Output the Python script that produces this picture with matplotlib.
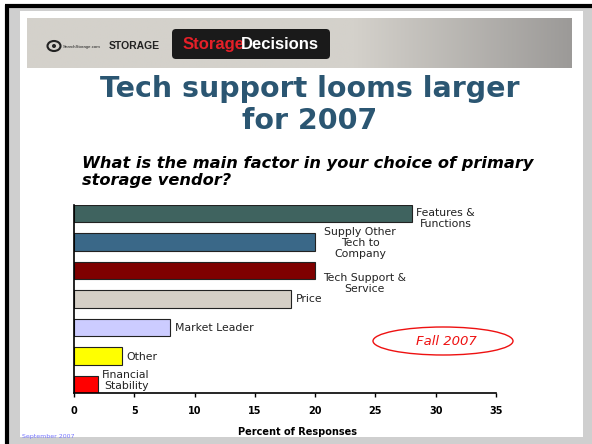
import numpy as np
import matplotlib
matplotlib.use("Agg")
import matplotlib.pyplot as plt
from matplotlib.patches import Rectangle, FancyBboxPatch, Ellipse

# data (top to bottom as on the slide)
factors = ['Features &\nFunctions', 'Supply Other\nTech to\nCompany', 'Tech Support &\nService',
           'Price', 'Market Leader', 'Other', 'Financial\nStability']
percent = [28, 20, 20, 18, 8, 4, 2]
colors = ['#3f635f', '#3a6888', '#7f0000', '#d5cfc6', '#ccccff', '#ffff00', '#ff0000']
xticks = [0, 5, 10, 15, 20, 25, 30, 35]

# label placement, pixel offsets from bar end: (dx, dy, ha)
label_pos = [(34, -5, 'center'), (45, -1, 'center'), (49, -13, 'center'), (5, 0, 'left'),
             (5, -1, 'left'), (4, -1, 'left'), (28, 4, 'center')]

W, H = 592, 444
fig = plt.figure(figsize=(W / 100, H / 100), dpi=100)

# background decoration layer in pixel coords
bg = fig.add_axes([0, 0, 1, 1])
bg.set_xlim(0, W)
bg.set_ylim(H, 0)
bg.axis('off')

# slide frame / shadow
bg.add_patch(Rectangle((8, 8), W - 8, H - 8, facecolor='#cfcfcf', edgecolor='none'))
bg.add_patch(Rectangle((20, 11), 563, 426, facecolor='white', edgecolor='none'))
bg.plot([5, W], [6.5, 6.5], color='black', lw=3, solid_capstyle='butt')
bg.plot([6.5, 6.5], [5, H], color='black', lw=3, solid_capstyle='butt')

# header banner with gradient
grad = np.linspace(0, 1, 256)
grad = np.clip((grad - 0.6) / 0.4, 0, 1)[None, :]
cmap = matplotlib.colors.LinearSegmentedColormap.from_list('ban', ['#d4d1cb', '#9c9a98'])
bg.imshow(grad, extent=(27, 572, 68, 18), cmap=cmap, aspect='auto', zorder=1)
bg.add_patch(FancyBboxPatch((172, 29), 158, 30, boxstyle='round,pad=0,rounding_size=4',
                            facecolor='#1a1a1a', edgecolor='none', zorder=2))
hdr = dict(fontsize=12, fontweight='bold', family='Liberation Sans', va='center', zorder=3)
bg.text(183, 44.5, 'Storage', color='#e52028', ha='left', **hdr)
bg.text(319, 44.5, 'Decisions', color='white', ha='right', **hdr)
bg.text(134, 46, 'STORAGE', color='#222222', fontsize=7.5, fontweight='bold',
        family='Liberation Sans', ha='center', va='center', zorder=3)
bg.text(63, 47, 'SearchStorage.com', color='#222222', fontsize=3.2, family='Liberation Sans',
        ha='left', va='center', zorder=3)
bg.add_patch(Ellipse((54, 46), 13, 10, facecolor='none', edgecolor='#222222', lw=1.5, zorder=3))
bg.add_patch(Ellipse((54, 46), 4, 4, facecolor='#222222', edgecolor='none', zorder=3))

# titles
fig.text(310 / W, 1 - 105 / H, 'Tech support looms larger\nfor 2007', color='#2b5672',
         fontsize=20.5, fontweight='bold', ha='center', va='center', linespacing=1.2)
fig.text(82 / W, 1 - 172 / H, 'What is the main factor in your choice of primary\nstorage vendor?',
         fontsize=11.7, fontweight='bold', style='italic', ha='left', va='center', linespacing=1.15)

# chart
ax = fig.add_axes([74 / W, 1 - 393 / H, 422 / W, 188 / H])
ax.patch.set_alpha(0)
ypos = np.arange(len(factors))[::-1]
ax.barh(ypos, percent, height=0.6, color=colors, edgecolor='#222222', linewidth=0.8)
ax.set_xlim(0, 35)
ax.set_ylim(-0.3, len(factors) - 0.7)
ax.set_xticks(xticks)
ax.set_xticklabels([str(t) for t in xticks], fontsize=7, fontweight='bold')
ax.tick_params(axis='x', length=3, width=1, pad=6)
ax.set_yticks([])
for s in ['top', 'right']:
    ax.spines[s].set_visible(False)
ax.spines['left'].set_linewidth(1.2)
ax.spines['bottom'].set_linewidth(1.2)

for lab, val, y, (dx, dy, ha) in zip(factors, percent, ypos, label_pos):
    ax.annotate(lab, xy=(val, y), xytext=(dx * 0.72, dy * 0.72), textcoords='offset points',
                ha=ha, va='center', fontsize=7.8, color='#222222', linespacing=1.1)

fig.text(297 / W, 1 - 432 / H, 'Percent of Responses', fontsize=7, fontweight='bold',
         ha='center', va='center')

# Fall 2007 callout
bg.add_patch(Ellipse((443, 341), 140, 28, facecolor='none', edgecolor='#ee1111', lw=1, zorder=5))
bg.text(446, 341, 'Fall 2007', color='#ee1111', fontsize=9.5, style='italic',
        ha='center', va='center', zorder=5)

fig.text(22 / W, 1 - 436 / H, 'September 2007', color='#7777ff', fontsize=4.5,
         ha='left', va='center')

fig.savefig('out.png', dpi=100)
